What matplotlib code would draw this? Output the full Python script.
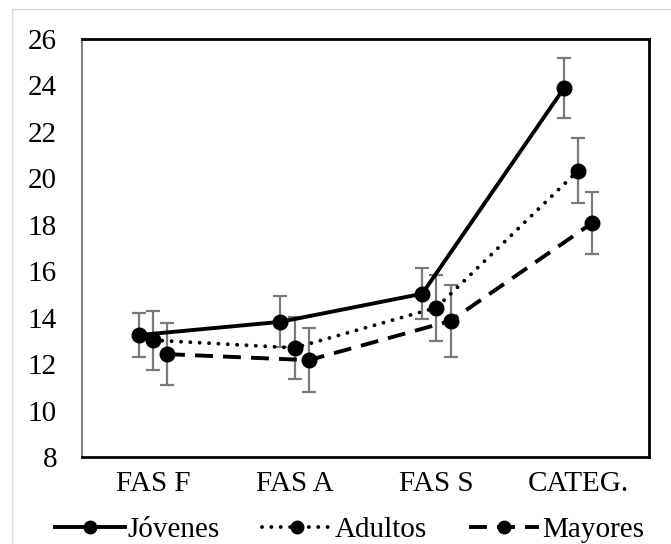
import numpy as np
import matplotlib
matplotlib.use("Agg")
import matplotlib.pyplot as plt
from matplotlib.lines import Line2D

# ---------------------------------------------------------------- data
categories = ["FAS F", "FAS A", "FAS S", "CATEG."]
jovenes = [13.25, 13.82, 15.03, 23.88]
jovenes_err = [0.95, 1.10, 1.09, 1.30]
adultos = [13.03, 12.70, 14.43, 20.33]
adultos_err = [1.27, 1.35, 1.42, 1.39]
mayores = [12.43, 12.17, 13.86, 18.08]
mayores_err = [1.32, 1.38, 1.55, 1.33]

plt.rcParams["font.family"] = ["Liberation Serif", "DejaVu Serif"]
FS = 21

fig = plt.figure(figsize=(6.71, 5.44), dpi=100)
ax = fig.add_axes([82 / 671, 1 - 457 / 544, (649 - 82) / 671, (457 - 39) / 544])

x = np.arange(len(categories))
series = [
    ("Jóvenes", jovenes, jovenes_err, -0.1, "-"),
    ("Adultos", adultos, adultos_err, 0.0, (0, (0.01, 2.4))),
    ("Mayores", mayores, mayores_err, 0.1, (0, (4.6, 2.6))),
]
handles = []
for name, vals, errs, off, ls in series:
    xs = x + off
    cap = "round" if name == "Adultos" else "butt"
    ax.errorbar(xs, vals, yerr=errs, fmt="none", ecolor="#7a7a7a",
                elinewidth=1.6, capsize=5, capthick=1.6, zorder=2)
    ax.plot(xs, vals, color="black", lw=2.8, ls=ls, marker="o",
            markersize=10.5, dash_capstyle=cap, zorder=3)
    handles.append(Line2D([], [], color="black", lw=2.8, ls=ls, marker="o",
                          markersize=9, dash_capstyle=cap))

ax.set_xlim(-0.5, 3.5)
ax.set_ylim(8, 26)
ax.set_yticks(np.arange(8, 27, 2))
ax.set_xticks(x)
ax.set_xticklabels(categories)
ax.tick_params(axis="y", length=0, pad=18, labelsize=FS)
ax.tick_params(axis="x", length=0, pad=10, labelsize=FS)
for s in ["top", "right", "bottom"]:
    ax.spines[s].set_linewidth(2)
    ax.spines[s].set_color("black")
ax.spines["left"].set_linewidth(1.5)
ax.spines["left"].set_color("#808080")

fig.legend(handles, [s[0] for s in series], loc="center",
           bbox_to_anchor=(0.521, 1 - 530 / 544), ncol=3, frameon=False,
           fontsize=FS, handlelength=2.4, handletextpad=0.1,
           columnspacing=1.44, borderpad=0)

# outer chart frame (light gray)
fig.add_artist(Line2D([12 / 671, 12 / 671], [0, 1 - 9 / 544],
                      transform=fig.transFigure, color="#d9d9d9", lw=1))
fig.add_artist(Line2D([12 / 671, 1], [1 - 9 / 544, 1 - 9 / 544],
                      transform=fig.transFigure, color="#d9d9d9", lw=1))

fig.savefig("out.png", dpi=100)
